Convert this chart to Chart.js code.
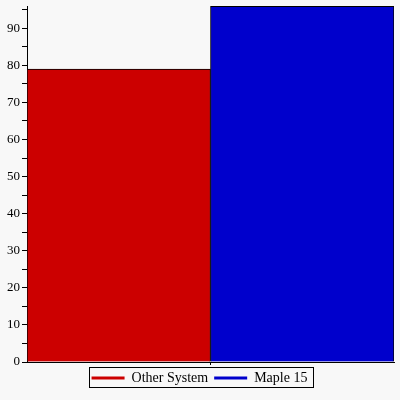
<!DOCTYPE html>
<html>
<head>
<meta charset="utf-8">
<script src="https://cdn.jsdelivr.net/npm/chart.js@4"></script>
<style>
html,body{margin:0;padding:0;background:#f8f8f8;}
#wrap{width:400px;height:400px;}
</style>
</head>
<body>
<div id="wrap"><canvas id="c" width="400" height="400"></canvas></div>
<script>
const categories = [""];
const seriesNames = ["Other System", "Maple 15"];
const otherSystem = [79];
const maple15 = [95.9];
const colors = ["#cc0000", "#0000cc"];

// box round the legend
const legendBorder = {
  id: "legendBorder",
  afterDraw(chart){
    const boxes = chart.legend.legendHitBoxes;
    if(!boxes || !boxes.length) return;
    let l = Infinity, r = -Infinity, t = Infinity, b = -Infinity;
    boxes.forEach(h=>{
      l = Math.min(l, h.left); r = Math.max(r, h.left + h.width);
      t = Math.min(t, h.top); b = Math.max(b, h.top + h.height);
    });
    const ctx = chart.ctx;
    ctx.save();
    ctx.strokeStyle = "#000";
    ctx.lineWidth = 1;
    ctx.strokeRect(Math.round(l) - 2.5, Math.round(t) - 3.5, Math.round(r - l) + 8, Math.round(b - t) + 6);
    ctx.restore();
  }
};

new Chart(document.getElementById("c"), {
  type: "bar",
  data: {
    labels: categories,
    datasets: [
      {label: seriesNames[0], data: otherSystem, backgroundColor: colors[0], borderColor: "#000", borderWidth: 1, borderSkipped: "bottom"},
      {label: seriesNames[1], data: maple15, backgroundColor: colors[1], borderColor: "#000", borderWidth: 1, borderSkipped: "bottom"}
    ]
  },
  options: {
    responsive: false,
    animation: false,
    layout: {padding: {left: 5, right: 6, top: 6, bottom: 5}},
    datasets: {bar: {categoryPercentage: 1, barPercentage: 1}},
    plugins: {
      tooltip: {enabled: false},
      legend: {
        position: "bottom",
        labels: {
          boxWidth: 33,
          boxHeight: 3,
          padding: 6,
          color: "#000",
          font: {family: "Liberation Serif", size: 14},
          generateLabels(chart){
            return chart.data.datasets.map((d, i)=>({
              text: d.label, fillStyle: d.backgroundColor, strokeStyle: d.backgroundColor,
              lineWidth: 0, datasetIndex: i, hidden: false, fontColor: "#000"
            }));
          }
        }
      }
    },
    scales: {
      x: {
        ticks: {display: false},
        grid: {offset: false, drawOnChartArea: false, tickLength: 3, color: "#000"},
        border: {color: "#000", width: 1}
      },
      y: {
        min: 0,
        max: 96,
        afterFit(scale){ scale.paddingTop = 0; },
        ticks: {
          stepSize: 5,
          includeBounds: false,
          padding: 2,
          color: "#000",
          font: {family: "Liberation Serif", size: 13},
          callback: v => (v % 10 === 0 ? v : "")
        },
        grid: {drawOnChartArea: false, tickLength: 5, color: "#000"},
        border: {color: "#000", width: 1}
      }
    }
  },
  plugins: [legendBorder]
});
</script>
</body>
</html>
